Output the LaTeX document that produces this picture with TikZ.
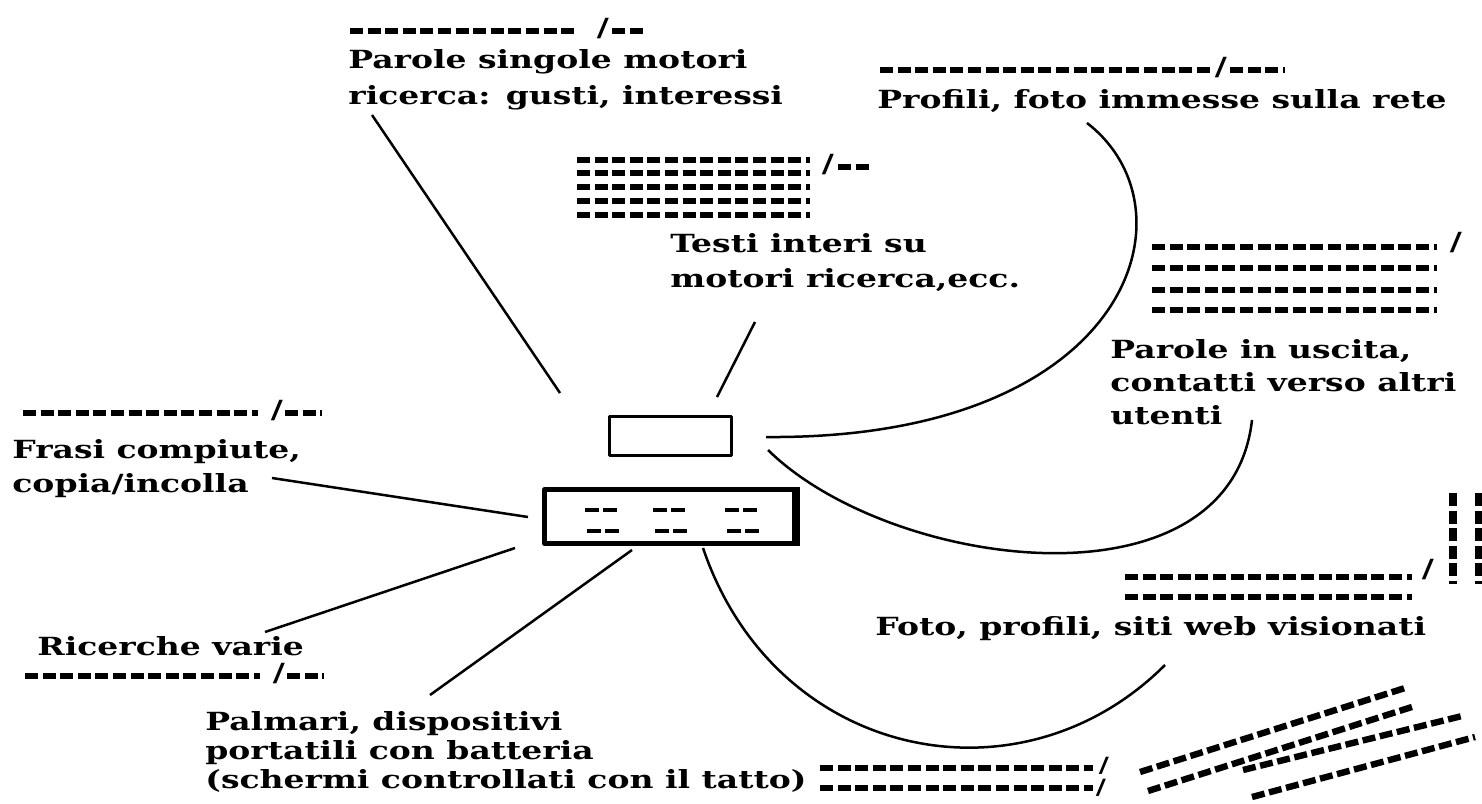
\documentclass[tikz,border=0pt]{standalone}
\usepackage{fontspec}
\newfontfamily\tagfont[FakeStretch=1.32]{DejaVu Serif}

\begin{document}
\begin{tikzpicture}[
  x=0.5pt,
  y=-0.5pt,
  line join=round,
  every node/.style={inner sep=0pt},
  caption/.style={anchor=north west,align=left,
    font=\tagfont\bfseries\fontsize{12.5}{#1}\selectfont},
  slash/.style={font=\tagfont\bfseries\fontsize{#1}{13}\selectfont,
    text height=5pt,text depth=0pt},
  slash/.default=12.5,
  wire/.style={line width=1.25pt},
  blanks/.style={line width=2.9pt,dash pattern=on 6.5pt off 2.3pt},
  keys/.style={line width=2pt,dash pattern=on 7pt off 2pt},
  frame/.style={draw,line width=#1}
]
% Bounding box.
\useasboundingbox (0,0) rectangle (1482,803);

% The two boxes in the middle.
\node[frame=1.5pt,minimum width=61pt,minimum height=19.5pt] (screen) at (670.5,436) {};
\node[frame=2.5pt,minimum width=126.5pt,minimum height=27pt] (board) at (671,516.5) {};
\fill (792,487) rectangle (800,546);
\foreach \dx in {0,68,140} {
  \draw[keys] (585+\dx,510) -- (618+\dx,510);
  \draw[keys] (587+\dx,531) -- (620+\dx,531);
}

% Labels.
\node[caption=18pt] (words) at (348,49) {Parole singole motori\\ricerca: gusti, interessi};
\node[caption=17pt] (profiles) at (877,89) {Profili, foto immesse sulla rete};
\node[caption=17.5pt] (texts) at (670,233) {Testi interi su\\motori ricerca,ecc.};
\node[caption=16.5pt] (outgoing) at (1110,339) {Parole in uscita,\\contatti verso altri\\utenti};
\node[caption=17pt] (phrases) at (12,439) {Frasi compiute,\\copia/incolla};
\node[caption=17pt] (searches) at (37,636) {Ricerche varie};
\node[caption=17pt] (viewed) at (875,616) {Foto, profili, siti web visionati};
\node[caption=14.5pt] (handhelds) at (205,711) {Palmari, dispositivi\\portatili con batteria\\(schermi controllati con il tatto)};

% Rows of blanks.
\draw[blanks] (350,31) -- (576,31);
\node[slash] (s1) at (603,31) {/};
\draw[blanks] (612,31) -- (646,31);

\draw[blanks] (880,70) -- (1210,70);
\node[slash] (s2) at (1221,70) {/};
\draw[blanks] (1230,70) -- (1285,70);

\foreach \y in {160,173,187,201,215}
  \draw[blanks] (577,\y) -- (810,\y);
\node[slash] (s3) at (828,167) {/};
\draw[blanks] (838,167) -- (873,167);

\foreach \y in {247,268,290,310}
  \draw[blanks] (1152,\y) -- (1437,\y);
\node[slash] (s4) at (1456,245) {/};

\draw[blanks] (23,413) -- (258,413);
\node[slash] (s5) at (277,413) {/};
\draw[blanks] (285,413) -- (322,413);

\draw[blanks] (25,676) -- (260,676);
\node[slash] (s6) at (279,676) {/};
\draw[blanks] (287,676) -- (324,676);

\draw[blanks] (1125,577) -- (1412,577);
\node[slash] (s7) at (1428,572) {/};
\draw[blanks] (1125,597) -- (1412,597);
\draw[blanks,line width=4pt] (1453,493) -- (1453,584);
\draw[blanks,line width=5pt] (1480,493) -- (1480,584);

\draw[blanks] (820,768) -- (1093,768);
\node[slash=10.5] (s8) at (1104,767) {/};
\draw[blanks] (820,788) -- (1093,788);
\node[slash=10.5] (s9) at (1101,789) {/};
\draw[blanks,line width=3.2pt] (1140,772) -- (1405,688);
\draw[blanks,line width=3.2pt] (1148,791) -- (1415,706);
\draw[blanks,line width=3.2pt] (1243,770) -- (1462,716);
\draw[blanks,line width=3.2pt] (1252,797) -- (1475,737);

% Connector ends.
\coordinate (wordsFoot) at (372,115);
\coordinate (wordsTip) at (560,393);
\coordinate (textsFoot) at (755,322);
\coordinate (textsTip) at (717,397);
\coordinate (screenUp) at (766,437);
\coordinate (profilesFoot) at (1087,123);
\coordinate (screenDown) at (768,450);
\coordinate (outgoingFoot) at (1252,420);
\coordinate (phrasesFoot) at (272,478);
\coordinate (boardLeft) at (528,517);
\coordinate (searchesFoot) at (265,632);
\coordinate (boardLow) at (515,548);
\coordinate (handheldsFoot) at (430,695);
\coordinate (boardBottom) at (632,550);
\coordinate (boardRight) at (703,548);
\coordinate (viewedFoot) at (1165,665);

% Connectors.
\draw[wire] (wordsFoot) -- (wordsTip);
\draw[wire] (textsFoot) -- (textsTip);
\draw[wire] (screenUp) .. controls (1130,440) and (1200,210) .. (profilesFoot);
\draw[wire] (screenDown) .. controls (890,570) and (1230,615) .. (outgoingFoot);
\draw[wire] (phrasesFoot) -- (boardLeft);
\draw[wire] (searchesFoot) -- (boardLow);
\draw[wire] (handheldsFoot) -- (boardBottom);
\draw[wire] (boardRight) .. controls (775,760) and (1020,810) .. (viewedFoot);
\end{tikzpicture}
\end{document}
